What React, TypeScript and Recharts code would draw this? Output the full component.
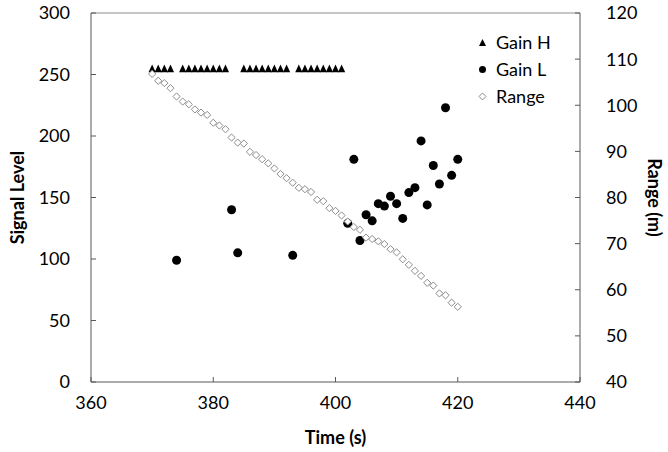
import React from "react";
import {
  ScatterChart, Scatter, XAxis, YAxis, ReferenceLine,
} from "recharts";

const gainHTimes = [
  370, 371, 372, 373,
  375, 376, 377, 378, 379, 380, 381, 382,
  385, 386, 387, 388, 389, 390, 391, 392,
  394, 395, 396, 397, 398, 399, 400, 401,
];
const gainHLevel = 255;

const gainLTimes = [
  374, 383, 384, 393, 402, 403, 404, 405, 406, 407, 408, 409,
  410, 411, 412, 413, 414, 415, 416, 417, 418, 419, 420,
];
const gainLLevels = [
  99, 140, 105, 103, 129, 181, 115, 136, 131, 145, 143, 151,
  145, 133, 154, 158, 196, 144, 176, 161, 223, 168, 181,
];

const rangeTimes = [
  370, 371, 372, 373, 374, 375, 376, 377, 378, 379,
  380, 381, 382, 383, 384, 385, 386, 387, 388, 389,
  390, 391, 392, 393, 394, 395, 396, 397, 398, 399,
  400, 401, 402, 403, 404, 405, 406, 407, 408, 409,
  410, 411, 412, 413, 414, 415, 416, 417, 418, 419, 420,
];
const rangeValues = [
  106.8, 105.3, 104.8, 103.7, 101.9, 100.8, 100.2, 99.1, 98.4, 97.9,
  96.2, 95.6, 94.8, 93.0, 91.9, 91.7, 89.9, 89.2, 88.3, 87.4,
  86.3, 85.1, 84.2, 83.2, 82.1, 81.8, 81.2, 79.5, 79.2, 77.7,
  77.1, 76.1, 74.8, 73.6, 73.0, 71.3, 71.0, 70.5, 69.9, 68.8,
  68.1, 66.6, 65.4, 64.1, 63.0, 61.5, 60.9, 59.2, 58.8, 57.2, 56.3,
];

const xTicks = [360, 380, 400, 420, 440];
const leftTicks = [0, 50, 100, 150, 200, 250, 300];
const rightTicks = [40, 50, 60, 70, 80, 90, 100, 110, 120];

const gainH = gainHTimes.map((t) => ({ t, v: gainHLevel }));
const gainL = gainLTimes.map((t, i) => ({ t, v: gainLLevels[i] }));
const range = rangeTimes.map((t, i) => ({ t, v: rangeValues[i] }));

const FONT = "Lato, 'Open Sans', sans-serif";
const AXIS = "#595959";
const tickStyle = { fill: "#000", fontSize: 18, fontFamily: FONT };
const titleStyle = { fontWeight: 700, fontSize: 18, fill: "#000", fontFamily: FONT };

const Triangle = ({ cx, cy }: any) => (
  <path d={`M${cx - 3.6},${cy + 3.8} L${cx},${cy - 3.8} L${cx + 3.6},${cy + 3.8} Z`} fill="#000" />
);
const Dot = ({ cx, cy }: any) => <circle cx={cx} cy={cy} r={4.5} fill="#000" />;
const Diamond = ({ cx, cy }: any) => (
  <path
    d={`M${cx},${cy - 3.6} L${cx + 3.6},${cy} L${cx},${cy + 3.6} L${cx - 3.6},${cy} Z`}
    fill="#fff"
    stroke="#8c8c8c"
    strokeWidth={1}
  />
);

const legendItems = [
  { name: "Gain H", sym: <path d="M1,8 L4.5,1 L8,8 Z" fill="#000" /> },
  { name: "Gain L", sym: <circle cx={4.5} cy={4.5} r={3.5} fill="#000" /> },
  { name: "Range", sym: <path d="M4.5,1 L8,4.5 L4.5,8 L1,4.5 Z" fill="#fff" stroke="#8c8c8c" /> },
];

function LegendBox() {
  return (
    <div style={{ position: "absolute", left: 478, top: 29, fontFamily: FONT, fontSize: 18, color: "#000", lineHeight: "27px" }}>
      {legendItems.map((it) => (
        <div key={it.name} style={{ display: "flex", alignItems: "center", height: 27 }}>
          <svg width={9} height={9} style={{ marginRight: 9 }}>{it.sym}</svg>
          <span>{it.name}</span>
        </div>
      ))}
    </div>
  );
}

export default function App() {
  return (
    <div style={{ position: "absolute", left: 0, top: 0, width: 668, height: 452, background: "#fff", fontFamily: FONT }}>
      <ScatterChart width={668} height={452} margin={{ top: 13, right: 0, bottom: 0, left: 0 }}>
        <XAxis
          type="number"
          dataKey="t"
          domain={[360, 440]}
          ticks={xTicks}
          height={70}
          tickSize={-5}
          tickMargin={19}
          stroke={AXIS}
          tick={tickStyle}
          label={{ value: "Time (s)", position: "insideBottom", offset: 8, style: titleStyle }}
        />
        <YAxis
          yAxisId="left"
          type="number"
          dataKey="v"
          domain={[0, 300]}
          ticks={leftTicks}
          width={91}
          tickSize={-5}
          tickMargin={26}
          stroke={AXIS}
          tick={tickStyle}
          label={{ value: "Signal Level", angle: -90, position: "insideLeft", offset: 18, style: { ...titleStyle, textAnchor: "middle" } }}
        />
        <YAxis
          yAxisId="right"
          orientation="right"
          type="number"
          dataKey="v"
          domain={[40, 120]}
          ticks={rightTicks}
          width={88}
          tickSize={-5}
          tickMargin={31}
          stroke={AXIS}
          tick={tickStyle}
          label={{ value: "Range (m)", angle: 90, position: "insideRight", offset: 14, style: { ...titleStyle, textAnchor: "middle" } }}
        />
        <ReferenceLine yAxisId="left" y={300} stroke="#8c8c8c" />
        <Scatter name="Gain H" data={gainH} yAxisId="left" shape={Triangle} isAnimationActive={false} />
        <Scatter name="Gain L" data={gainL} yAxisId="left" shape={Dot} isAnimationActive={false} />
        <Scatter name="Range" data={range} yAxisId="right" shape={Diamond} isAnimationActive={false} />
      </ScatterChart>
      <LegendBox />
    </div>
  );
}
